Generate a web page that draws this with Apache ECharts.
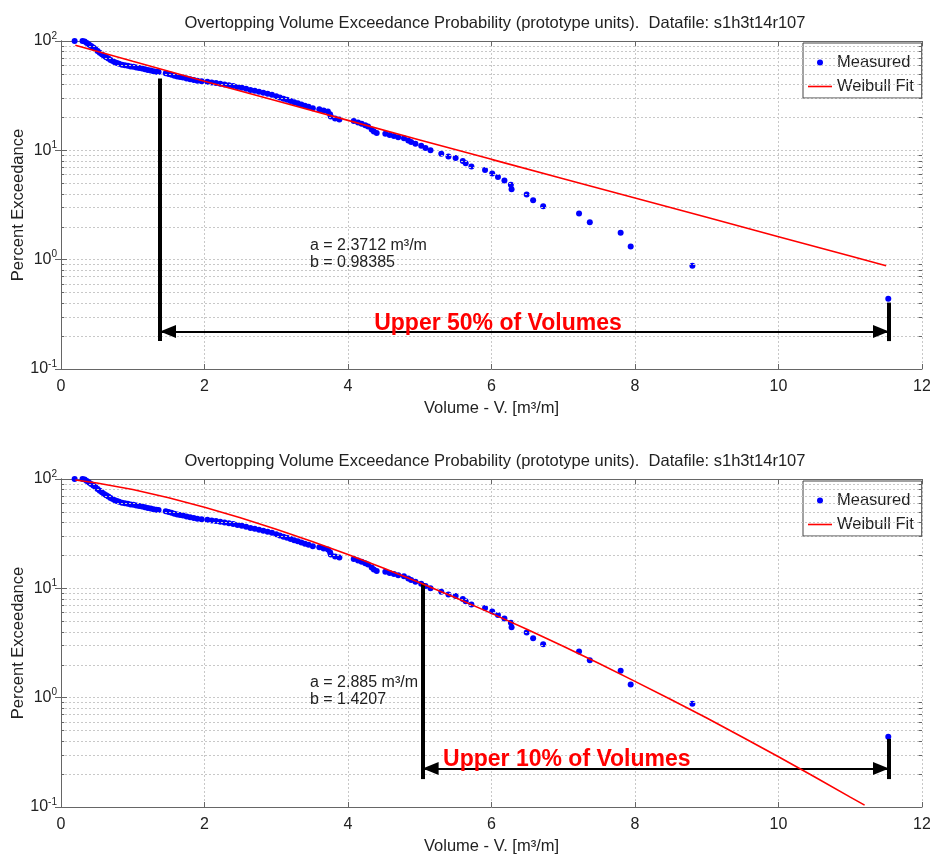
<!DOCTYPE html>
<html>
<head>
<meta charset="utf-8">
<script src="https://cdn.jsdelivr.net/npm/echarts@6/dist/echarts.min.js"></script>
<style>
  html, body { margin: 0; padding: 0; background: #fff; }
  #chart { width: 930px; height: 855px; }
</style>
</head>
<body>
<div id="chart"></div>
<script>
// measured overtopping volumes: [V (m3/m), percent exceedance]
const measured = [
  [0.19, 100], [0.30, 100], [0.33, 99], [0.36, 96], [0.39, 93], [0.42, 90], [0.45, 87],
  [0.48, 84], [0.51, 81], [0.54, 78], [0.57, 75.5], [0.60, 73], [0.63, 71], [0.66, 69],
  [0.69, 67], [0.72, 65.5], [0.75, 64], [0.78, 62.8], [0.81, 61.8], [0.85, 60.8], [0.89, 60],
  [0.93, 59.3], [0.97, 58.6], [1.01, 58], [1.05, 57.3], [1.09, 56.7], [1.13, 56], [1.17, 55.2],
  [1.21, 54.4], [1.25, 53.6], [1.29, 52.9], [1.33, 52.4], [1.36, 52],
  [1.46, 50.6], [1.50, 49.9], [1.54, 49], [1.58, 48], [1.62, 47.4], [1.66, 46.8], [1.70, 46.3],
  [1.75, 45.5], [1.80, 44.6], [1.85, 44], [1.90, 43.4], [1.96, 42.9], [2.04, 42.3], [2.10, 41.8],
  [2.16, 41.2], [2.22, 40.6], [2.28, 40], [2.34, 39.4], [2.40, 38.8], [2.46, 38], [2.52, 37.3],
  [2.58, 36.5], [2.64, 35.7], [2.70, 35], [2.76, 34.3], [2.82, 33.7], [2.88, 33], [2.94, 32.2],
  [3.00, 31.2], [3.05, 30.4], [3.10, 29.7], [3.15, 29], [3.20, 28.3], [3.25, 27.6], [3.30, 26.9],
  [3.35, 26.2], [3.40, 25.6], [3.45, 25], [3.51, 24.3], [3.60, 23.7], [3.66, 23.1], [3.72, 22.6],
  [3.75, 21.4], [3.76, 20.4], [3.82, 19.6], [3.88, 19.1], [4.08, 18.5], [4.14, 18.0], [4.19, 17.5],
  [4.24, 17.0], [4.28, 16.5], [4.33, 15.5], [4.36, 14.9], [4.40, 14.4], [4.52, 14.2], [4.58, 13.8],
  [4.64, 13.5], [4.70, 13.2], [4.78, 12.9], [4.84, 12.3], [4.88, 11.9], [4.94, 11.5], [5.02, 11.0],
  [5.08, 10.5], [5.15, 10.0], [5.30, 9.3], [5.40, 8.8], [5.50, 8.5], [5.60, 8.0], [5.64, 7.6],
  [5.72, 7.1], [5.91, 6.6], [6.01, 6.15], [6.09, 5.7], [6.18, 5.3], [6.27, 4.85], [6.28, 4.4],
  [6.49, 3.95], [6.58, 3.5], [6.72, 3.08], [7.22, 2.64], [7.37, 2.2], [7.80, 1.76], [7.94, 1.32],
  [8.80, 0.88], [11.53, 0.44]
];

// Weibull fit (a = 2.3712, b = 0.98385)
const fitUpper50 = [
  [0.2, 91.6], [1, 65.2], [2, 42.9], [3, 28.4], [4, 18.8], [5, 12.45], [6, 8.27],
  [7, 5.5], [8, 3.66], [9, 2.44], [10, 1.62], [11, 1.08], [11.5, 0.88]
];

// Weibull fit (a = 2.885, b = 1.4207)
const fitUpper10 = [
  [0.2, 97.8], [0.5, 92.0], [1, 80.1], [1.5, 67.4], [2, 55.2], [2.5, 44.2], [3, 34.7],
  [3.5, 26.8], [4, 20.4], [4.5, 15.25], [5, 11.25], [5.5, 8.2], [6, 5.9], [6.5, 4.2],
  [7, 2.95], [7.5, 2.05], [8, 1.41], [8.5, 0.963], [9, 0.651], [9.5, 0.435], [10, 0.288],
  [10.5, 0.189], [11, 0.123], [11.2, 0.104]
];

const minorY = [0.2, 0.3, 0.4, 0.5, 0.6, 0.7, 0.8, 0.9, 2, 3, 4, 5, 6, 7, 8, 9, 20, 30, 40, 50, 60, 70, 80, 90];
const seriesNames = ['Measured', 'Weibull Fit'];
const titleText = 'Overtopping Volume Exceedance Probability (prototype units).  Datafile: s1h3t14r107';

// annotation spots (data units)
const panels = [
  { fit: fitUpper50, params: 'a = 2.3712 m³/m\nb = 0.98385', paramsAt: [3.47, 1.12],
    band: 'Upper 50% of Volumes', bandAt: [6.09, 0.262],
    from: 1.38, to: 11.54, fromTop: 45.5, toTop: 0.405, barBottom: 0.18, arrowY: 0.22 },
  { fit: fitUpper10, params: 'a = 2.885 m³/m\nb = 1.4207', paramsAt: [3.47, 1.14],
    band: 'Upper 10% of Volumes', bandAt: [7.05, 0.27],
    from: 5.04, to: 11.54, fromTop: 11.1, toTop: 0.42, barBottom: 0.18, arrowY: 0.225 }
];

const gridTops = [41, 479];
const chart = echarts.init(document.getElementById('chart'));

const frameColor = '#666';
const gridLine = { show: true, lineStyle: { color: '#c8c8c8', type: [2, 2], width: 1 } };
const txt = '#222';
const font = 'Liberation Sans';

function xAxes(g) {
  return [
    {
      gridIndex: g, type: 'value', min: 0, max: 12, interval: 2, position: 'bottom',
      axisLine: { show: true, onZero: false, lineStyle: { color: frameColor } },
      axisTick: { inside: true, length: 5, lineStyle: { color: frameColor } },
      axisLabel: { color: txt, fontSize: 16, margin: 10, fontFamily: font },
      splitLine: gridLine,
      name: 'Volume - V. [m³/m]', nameLocation: 'middle', nameGap: 31,
      nameTextStyle: { color: txt, fontSize: 16.5, fontFamily: font }
    },
    {
      gridIndex: g, type: 'value', min: 0, max: 12, interval: 2, position: 'top',
      axisLine: { show: true, onZero: false, lineStyle: { color: frameColor } },
      axisTick: { inside: true, length: 5, lineStyle: { color: frameColor } },
      axisLabel: { show: false }, splitLine: { show: false }
    }
  ];
}

function yAxes(g) {
  return [
    {
      gridIndex: g, type: 'log', logBase: 10, min: 0.1, max: 100, position: 'left',
      axisLine: { show: true, lineStyle: { color: frameColor } },
      axisTick: { inside: true, length: 6, lineStyle: { color: frameColor } },
      axisLabel: {
        margin: 4, color: txt,
        formatter: v => '{b|10}{e|' + Math.round(Math.log10(v)) + '}',
        rich: {
          b: { fontSize: 16, color: txt, fontFamily: font },
          e: { fontSize: 10, color: txt, fontFamily: font, padding: [0, 0, 10, 0] }
        }
      },
      splitLine: gridLine,
      name: 'Percent Exceedance', nameLocation: 'middle', nameGap: 34, nameMoveOverlap: false,
      nameTextStyle: { color: txt, fontSize: 16.5, fontFamily: font }
    },
    {
      gridIndex: g, type: 'log', logBase: 10, min: 0.1, max: 100, position: 'right',
      axisLine: { show: true, lineStyle: { color: frameColor } },
      axisTick: { inside: true, length: 6, lineStyle: { color: frameColor } },
      axisLabel: { show: false }, splitLine: { show: false }
    }
  ];
}

const series = [];
panels.forEach((p, g) => {
  const xi = g * 2, yi = g * 2;
  series.push({
    name: seriesNames[0], type: 'scatter', xAxisIndex: xi, yAxisIndex: yi,
    data: measured, symbol: 'circle', symbolSize: 6,
    itemStyle: { color: '#0000ff', opacity: 1, borderWidth: 0 }, z: 4
  });
  series.push({
    name: seriesNames[1], type: 'line', xAxisIndex: xi, yAxisIndex: yi,
    data: p.fit, symbol: 'none', smooth: false,
    lineStyle: { color: '#ff0000', width: 1.6 }, itemStyle: { color: '#ff0000' }, z: 5
  });
  // minor log grid + minor ticks
  series.push({
    type: 'line', xAxisIndex: xi, yAxisIndex: yi, data: [], silent: true, z: 1,
    markLine: {
      silent: true, symbol: ['none', 'none'], label: { show: false }, animation: false,
      lineStyle: { color: '#c8c8c8', type: [2, 2], width: 1 },
      data: minorY.map(v => ({ yAxis: v }))
    }
  });
  series.push({
    type: 'line', xAxisIndex: xi, yAxisIndex: yi, data: [], silent: true, z: 1,
    markLine: {
      silent: true, symbol: ['none', 'none'], label: { show: false }, animation: false,
      lineStyle: { color: frameColor, type: 'solid', width: 1 },
      data: minorY.map(v => [{ coord: [0, v] }, { coord: [0.045, v] }])
        .concat(minorY.map(v => [{ coord: [11.955, v] }, { coord: [12, v] }]))
    }
  });
  // black bars and the double arrow
  series.push({
    type: 'line', xAxisIndex: xi, yAxisIndex: yi, data: [], silent: true, z: 6,
    markLine: {
      silent: true, animation: false, label: { show: false },
      symbol: ['none', 'none'],
      lineStyle: { color: '#000', type: 'solid', width: 4 },
      data: [
        [{ coord: [p.from, p.fromTop] }, { coord: [p.from, p.barBottom] }],
        [{ coord: [p.to, p.toTop] }, { coord: [p.to, p.barBottom] }],
        [
          { coord: [p.from, p.arrowY], symbol: 'triangle', symbolSize: [13, 16], symbolOffset: [0, 8],
            lineStyle: { width: 2 } },
          { coord: [p.to, p.arrowY], symbol: 'triangle', symbolSize: [13, 16], symbolOffset: [0, 8],
            lineStyle: { width: 2 } }
        ]
      ]
    }
  });
  // text annotations
  series.push({
    type: 'scatter', xAxisIndex: xi, yAxisIndex: yi, silent: true, z: 7,
    symbolSize: 1, itemStyle: { color: 'rgba(0,0,0,0)', opacity: 1 },
    data: [
      { value: p.paramsAt, label: {
        show: true, position: 'inside', align: 'left', verticalAlign: 'middle', opacity: 1,
        formatter: p.params, color: txt, fontSize: 16, lineHeight: 17, fontFamily: font } },
      { value: p.bandAt, label: {
        show: true, position: 'inside', align: 'center', verticalAlign: 'middle', opacity: 1,
        formatter: p.band, color: '#ff0000', fontSize: 23, fontWeight: 'bold', fontFamily: font } }
    ]
  });
});

const option = {
  animation: false,
  backgroundColor: '#fff',
  title: gridTops.map(t => ({
    text: titleText, left: 490, top: t - 31, textAlign: 'center',
    textStyle: { color: txt, fontSize: 16.5, fontWeight: 'normal', fontFamily: font }
  })),
  legend: gridTops.map(t => ({
    data: [
      { name: seriesNames[0], icon: 'circle' },
      { name: seriesNames[1], icon: 'path://M0,0L24,0L24,1.6L0,1.6Z' }
    ],
    orient: 'vertical', left: 803, top: t + 2,
    backgroundColor: '#fff', borderColor: '#444', borderWidth: 1, borderRadius: 0,
    padding: [11, 8, 3, 5], itemGap: 7, itemWidth: 24, itemHeight: 6,
    textStyle: { color: txt, fontSize: 16.5, fontFamily: font }
  })),
  grid: gridTops.map(t => ({
    left: 61, right: 8, top: t, height: 328, containLabel: false, outerBoundsMode: 'none'
  })),
  xAxis: xAxes(0).concat(xAxes(1)),
  yAxis: yAxes(0).concat(yAxes(1)),
  series: series
};

chart.setOption(option);
</script>
</body>
</html>
